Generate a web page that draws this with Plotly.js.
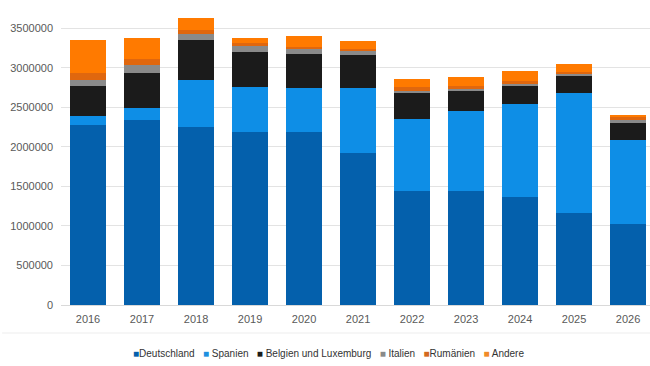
<!DOCTYPE html>
<html>
<head>
<meta charset="utf-8">
<script src="https://cdn.plot.ly/plotly-3.0.1.min.js"></script>
<style>
  html, body { margin: 0; padding: 0; background: #ffffff; }
  #chart { width: 650px; height: 366px; }
</style>
</head>
<body>
<div id="chart"></div>
<script>
// Years on the x axis
const years = ['2016', '2017', '2018', '2019', '2020', '2021', '2022', '2023', '2024', '2025', '2026'];

// Stacked series, bottom to top
const deutschland = [2277000, 2339000, 2255000, 2185000, 2192000, 1919000, 1442000, 1446000, 1370000, 1160000, 1025000];
const spanien     = [ 114000,  149000,  591000,  577000,  557000,  830000,  911000, 1012000, 1173000, 1518000, 1062000];
const belgienLux  = [ 383000,  451000,  506000,  442000,  426000,  414000,  325000,  253000,  228000,  223000,  212000];
const italien     = [  72000,   97000,   76000,   76000,   63000,   55000,   33000,   18000,   25000,   22000,   42000];
const rumaenien   = [  85000,   72000,   51000,   30000,   30000,   21000,   47000,   42000,   38000,   29000,   32000];
const andere      = [ 421000,  266000,  148000,   70000,  139000,  105000,  101000,  110000,  127000,   97000,   32000];

const seriesNames  = ['Deutschland', 'Spanien', 'Belgien und Luxemburg', 'Italien', 'Rumänien', 'Andere'];
const seriesValues = [deutschland, spanien, belgienLux, italien, rumaenien, andere];
const seriesColors = ['#0460AC', '#0E8EE6', '#1B1B1B', '#8A8A8A', '#E0670E', '#FF7A00'];
const legendColors = ['#0460AC', '#1E90E0', '#1B1B1B', '#8A8A8A', '#D2691E', '#F08A2A'];

const yTicks = [0, 500000, 1000000, 1500000, 2000000, 2500000, 3000000, 3500000];

const traces = seriesNames.map((name, i) => ({
  type: 'bar',
  name: name,
  x: years,
  y: seriesValues[i],
  marker: { color: seriesColors[i], line: { width: 0 } },
  hoverinfo: 'x+y+name'
}));

// Compact legend line built from names and colours
const legendText = seriesNames
  .map((n, i) => '<span style="color:' + legendColors[i] + '">■</span>' + (i === 0 || i === 4 ? '' : ' ') + n)
  .join('   ');

const layout = {
  width: 650,
  height: 366,
  margin: { l: 61, r: 0, t: 10, b: 61 },
  paper_bgcolor: '#ffffff',
  plot_bgcolor: '#ffffff',
  barmode: 'stack',
  bargap: 0.333,
  showlegend: false,
  font: { family: 'Liberation Sans, Arial, sans-serif', color: '#595959', size: 11 },
  xaxis: {
    type: 'category',
    range: [-0.5, 10.407],
    showgrid: false,
    zeroline: false,
    showline: false,
    ticks: '',
    ticklabelstandoff: 6,
    tickfont: { size: 11, color: '#595959' },
    fixedrange: true
  },
  yaxis: {
    range: [0, 3732000],
    tickvals: yTicks,
    ticktext: yTicks.map(v => String(v)),
    showgrid: true,
    gridcolor: '#e3e3e3',
    gridwidth: 1,
    zeroline: true,
    zerolinecolor: '#d9d9d9',
    showline: false,
    ticks: '',
    ticklabelstandoff: 7,
    tickfont: { size: 11, color: '#595959' },
    fixedrange: true
  },
  shapes: [
    { type: 'line', xref: 'paper', yref: 'paper', x0: -0.1, x1: 1, y0: -0.095, y1: -0.095,
      line: { color: '#ededed', width: 1 } }
  ],
  annotations: [
    {
      xref: 'paper', yref: 'paper',
      x: 0.455, y: -0.165,
      xanchor: 'center', yanchor: 'middle',
      showarrow: false,
      text: legendText,
      font: { size: 10, color: '#333333', family: 'Liberation Sans, Arial, sans-serif' }
    }
  ]
};

Plotly.newPlot('chart', traces, layout, { displayModeBar: false, staticPlot: true });
</script>
</body>
</html>
